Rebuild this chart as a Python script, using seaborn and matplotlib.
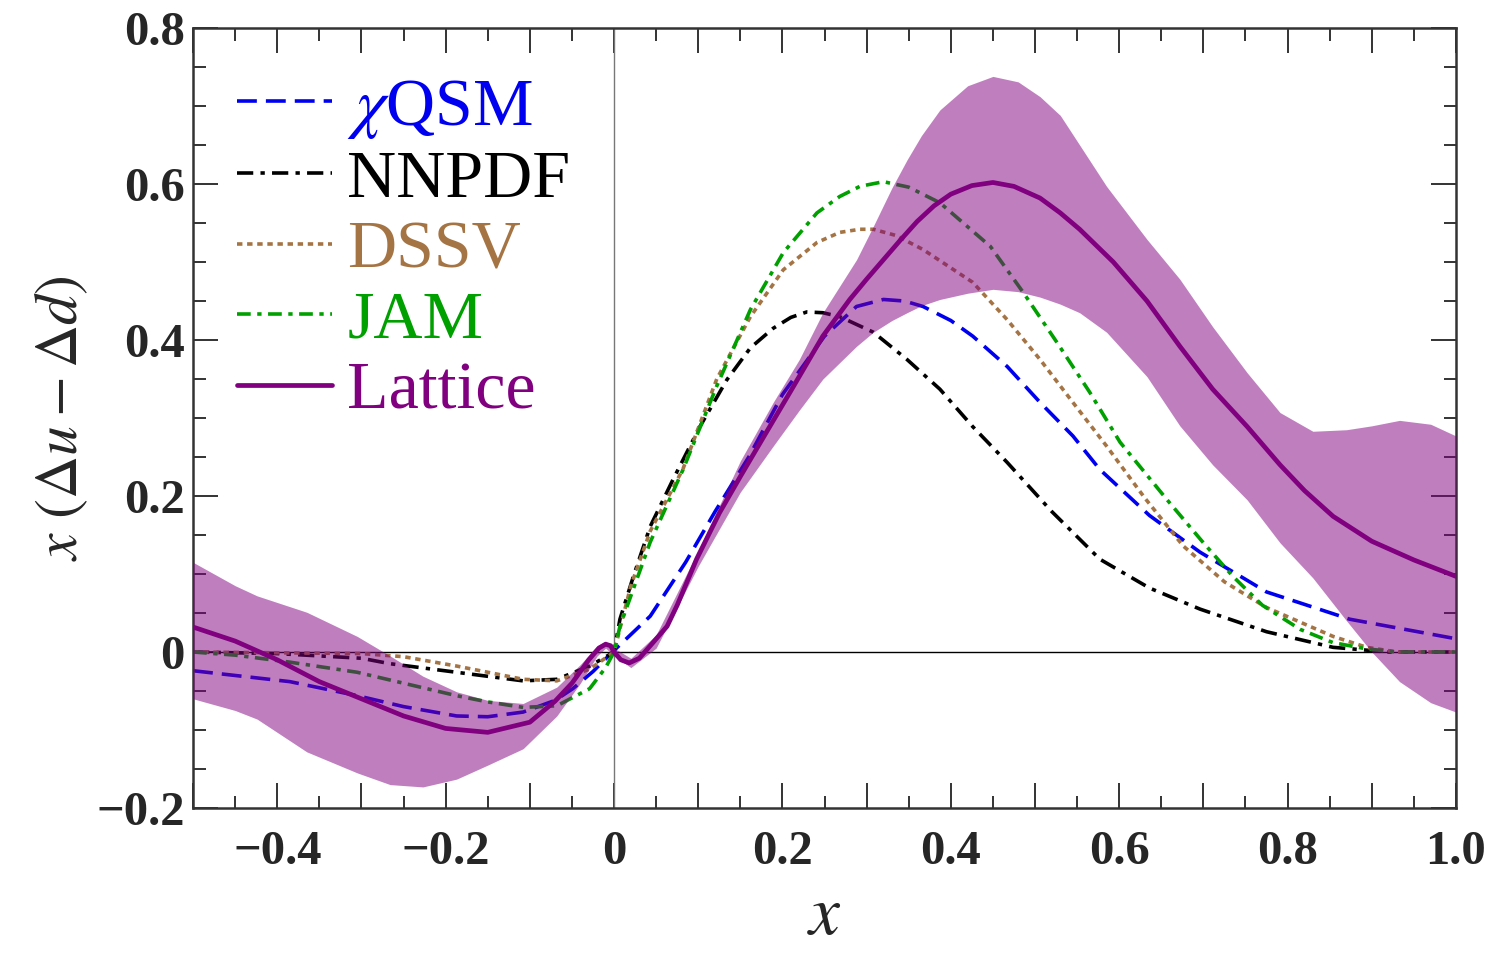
import numpy as np
import pandas as pd
import matplotlib
matplotlib.use("Agg")
import matplotlib.pyplot as plt
import seaborn as sns
from matplotlib.ticker import MultipleLocator, FuncFormatter

# ---- data ----
lat_x = [-0.50, -0.45, -0.40, -0.35, -0.30, -0.25, -0.20, -0.15, -0.10, -0.07, -0.05, -0.03,
         -0.018, -0.01, -0.004, 0.0, 0.008, 0.018, 0.03, 0.043, 0.063, 0.075, 0.098, 0.125,
         0.150, 0.180, 0.209, 0.248, 0.280, 0.300, 0.320, 0.340, 0.360, 0.380, 0.400, 0.425,
         0.450, 0.475, 0.506, 0.530, 0.553, 0.593, 0.633, 0.672, 0.711, 0.752, 0.791, 0.820,
         0.854, 0.90, 0.95, 1.00]
lat_y = [0.032, 0.014, -0.010, -0.038, -0.060, -0.082, -0.098, -0.103, -0.090, -0.063, -0.040, -0.010,
         0.005, 0.010, 0.008, 0.0, -0.010, -0.014, -0.008, 0.008, 0.033, 0.060, 0.119, 0.178,
         0.225, 0.280, 0.333, 0.405, 0.452, 0.478, 0.503, 0.528, 0.552, 0.572, 0.587, 0.598,
         0.602, 0.597, 0.582, 0.563, 0.542, 0.500, 0.450, 0.392, 0.337, 0.289, 0.240, 0.207,
         0.174, 0.142, 0.118, 0.097]

band_x = [-0.50, -0.45, -0.424, -0.365, -0.305, -0.266, -0.227, -0.187, -0.15, -0.108, -0.068,
          -0.04, -0.02, -0.01, 0.0, 0.02, 0.05, 0.10, 0.15, 0.189, 0.220, 0.248, 0.288, 0.308,
          0.330, 0.348, 0.365, 0.387, 0.420, 0.450, 0.480, 0.506, 0.530, 0.553, 0.585, 0.633,
          0.672, 0.711, 0.752, 0.791, 0.83, 0.87, 0.90, 0.933, 0.97, 1.00]
band_hi = [0.115, 0.085, 0.072, 0.051, 0.020, -0.005, -0.031, -0.051, -0.062, -0.066, -0.045,
           -0.016, 0.008, 0.014, 0.005, -0.008, 0.022, 0.130, 0.245, 0.320, 0.375, 0.435, 0.503,
           0.546, 0.595, 0.631, 0.662, 0.695, 0.726, 0.738, 0.731, 0.712, 0.688, 0.650, 0.597,
           0.529, 0.478, 0.417, 0.358, 0.307, 0.283, 0.285, 0.290, 0.297, 0.292, 0.277]
band_lo = [-0.060, -0.075, -0.086, -0.128, -0.155, -0.170, -0.173, -0.163, -0.145, -0.124, -0.082,
           -0.040, -0.005, 0.005, -0.005, -0.020, 0.005, 0.110, 0.205, 0.264, 0.310, 0.350, 0.392,
           0.410, 0.425, 0.435, 0.444, 0.452, 0.460, 0.465, 0.462, 0.455, 0.446, 0.435, 0.410,
           0.353, 0.290, 0.240, 0.195, 0.140, 0.095, 0.040, 0.0, -0.038, -0.065, -0.077]

qsm_x = [-0.50, -0.385, -0.305, -0.25, -0.187, -0.15, -0.108, -0.07, -0.049, -0.025, 0.0, 0.043,
         0.085, 0.12, 0.16, 0.20, 0.25, 0.288, 0.32, 0.345, 0.367, 0.40, 0.426, 0.467, 0.506,
         0.545, 0.577, 0.636, 0.696, 0.775, 0.874, 1.00]
qsm_y = [-0.024, -0.038, -0.056, -0.070, -0.082, -0.083, -0.077, -0.062, -0.047, -0.025, 0.002, 0.046,
         0.115, 0.180, 0.250, 0.330, 0.405, 0.443, 0.452, 0.450, 0.443, 0.425, 0.405, 0.366, 0.320,
         0.277, 0.234, 0.175, 0.128, 0.077, 0.042, 0.017]

nn_x = [-0.50, -0.40, -0.30, -0.266, -0.187, -0.108, -0.068, -0.029, 0.0, 0.007, 0.023, 0.043,
        0.07, 0.102, 0.134, 0.162, 0.189, 0.210, 0.229, 0.248, 0.268, 0.308, 0.348, 0.387, 0.426,
        0.467, 0.52, 0.577, 0.636, 0.696, 0.775, 0.854, 0.92, 1.00]
nn_y = [0.0, -0.002, -0.008, -0.015, -0.026, -0.037, -0.035, -0.018, 0.0, 0.042, 0.097, 0.161,
        0.221, 0.289, 0.349, 0.390, 0.415, 0.429, 0.436, 0.435, 0.430, 0.410, 0.375, 0.337, 0.289,
        0.243, 0.180, 0.119, 0.082, 0.055, 0.026, 0.006, 0.0, 0.0]

dssv_x = [-0.50, -0.30, -0.25, -0.187, -0.108, -0.068, -0.029, 0.0, 0.02, 0.043, 0.082, 0.122,
          0.162, 0.201, 0.241, 0.268, 0.292, 0.308, 0.335, 0.367, 0.426, 0.467, 0.506, 0.545,
          0.585, 0.630, 0.676, 0.725, 0.775, 0.854, 0.894, 0.93, 1.00]
dssv_y = [0.0, -0.002, -0.006, -0.018, -0.035, -0.037, -0.022, 0.0, 0.085, 0.155, 0.235, 0.350,
          0.430, 0.490, 0.525, 0.538, 0.542, 0.542, 0.534, 0.516, 0.474, 0.426, 0.375, 0.320,
          0.264, 0.198, 0.136, 0.090, 0.057, 0.020, 0.006, 0.0, 0.0]

jam_x = [-0.50, -0.45, -0.385, -0.305, -0.25, -0.187, -0.15, -0.108, -0.068, -0.029, -0.01, 0.0,
         0.007, 0.043, 0.082, 0.122, 0.162, 0.201, 0.241, 0.268, 0.292, 0.320, 0.350, 0.387, 0.447,
         0.486, 0.526, 0.565, 0.601, 0.657, 0.70, 0.735, 0.77, 0.815, 0.854, 0.894, 0.93, 1.00]
jam_y = [0.0, -0.004, -0.013, -0.026, -0.040, -0.056, -0.064, -0.071, -0.069, -0.047, -0.020, 0.0,
         0.033, 0.141, 0.234, 0.341, 0.439, 0.512, 0.563, 0.584, 0.597, 0.603, 0.596, 0.576, 0.520,
         0.461, 0.397, 0.333, 0.269, 0.195, 0.140, 0.097, 0.060, 0.029, 0.012, 0.004, 0.0, 0.0]

# ---- style ----
sns.set_theme(style="ticks")
plt.rcParams["font.family"] = ["Liberation Serif", "DejaVu Serif"]
plt.rcParams["mathtext.fontset"] = "stix"
plt.rcParams["axes.unicode_minus"] = True

fig = plt.figure(figsize=(14.99, 9.57), dpi=100)
ax = fig.add_axes([0.1288, 0.1557, 0.8425, 0.815])

ax.axhline(0, color="black", lw=1.0, zorder=1)
ax.axvline(0, color="#777777", lw=1.0, zorder=1)

curves = [
    ("$\\chi$QSM", qsm_x, qsm_y, "#0000F0", [5.5, 2.5]),
    ("NNPDF", nn_x, nn_y, "black", [4.5, 2.0, 1.2, 2.0]),
    ("DSSV", dssv_x, dssv_y, "#A57444", [1.5, 1.3]),
    ("JAM", jam_x, jam_y, "#00A000", [3.8, 1.8, 1.2, 1.8]),
]
handles = []
for name, xs, ys, col, dash in curves:
    df = pd.DataFrame({"x": xs, "y": ys})
    sns.lineplot(data=df, x="x", y="y", ax=ax, color=col, lw=2.6, zorder=2)
    ln = ax.lines[-1]
    ln.set_dashes(dash)
    ln.set_label(name)
    handles.append(ln)

# error band drawn over the other models, as in the original
ax.fill_between(band_x, band_lo, band_hi, color="#800080", alpha=0.5, lw=0, zorder=3)

df = pd.DataFrame({"x": lat_x, "y": lat_y})
sns.lineplot(data=df, x="x", y="y", ax=ax, color="#800080", lw=3.4, zorder=4)
ln = ax.lines[-1]
ln.set_label("Lattice")
handles.append(ln)

ax.set_xlim(-0.5, 1.0)
ax.set_ylim(-0.2, 0.8)

def fmt(v, pos):
    if abs(v) < 1e-9:
        return "0"
    if abs(round(v / 0.2) * 0.2 - v) > 1e-6:
        return ""
    return ("%.1f" % v).replace("-", "\u2212")

ax.xaxis.set_major_locator(MultipleLocator(0.1))
ax.xaxis.set_minor_locator(MultipleLocator(0.05))
ax.yaxis.set_major_locator(MultipleLocator(0.2))
ax.yaxis.set_minor_locator(MultipleLocator(0.05))
ax.xaxis.set_major_formatter(FuncFormatter(fmt))
ax.yaxis.set_major_formatter(FuncFormatter(fmt))

ax.tick_params(which="both", direction="in", top=True, right=True, color="#333333", width=1.4)
ax.tick_params(which="major", length=18)
ax.tick_params(which="minor", length=9)
ax.tick_params(axis="x", which="major", labelsize=35, pad=16)
ax.tick_params(axis="y", which="major", labelsize=35, pad=6)
for lab in ax.get_xticklabels() + ax.get_yticklabels():
    lab.set_fontweight("bold")
for sp in ax.spines.values():
    sp.set_linewidth(1.8)
    sp.set_color("#333333")

ax.set_xlabel("$x$", fontsize=50, labelpad=8)
ax.set_ylabel("$x\\ (\\Delta u - \\Delta d)$", fontsize=43, labelpad=4)

leg = ax.legend(handles=handles, loc="upper left", bbox_to_anchor=(0.008, 0.981),
                frameon=False, fontsize=49, labelcolor="linecolor",
                handlelength=1.4, handletextpad=0.22, labelspacing=0.13, borderpad=0)

fig.savefig("out.png", dpi=100)
